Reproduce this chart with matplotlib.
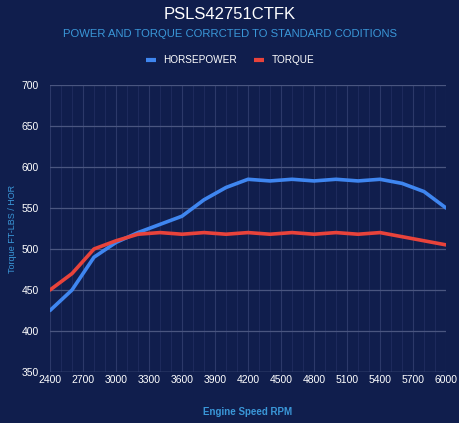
import numpy as np
import matplotlib
matplotlib.use('Agg')
import matplotlib.pyplot as plt
from matplotlib.ticker import MultipleLocator

# Data
rpm = [2400, 2600, 2800, 3000, 3200, 3400, 3600, 3800, 4000, 4200,
       4400, 4600, 4800, 5000, 5200, 5400, 5600, 5800, 6000]
horsepower = [425, 450, 490, 508, 520, 530, 540, 560, 575, 585,
              583, 585, 583, 585, 583, 585, 580, 570, 550]
torque = [450, 470, 500, 510, 518, 520, 518, 520, 518, 520,
          518, 520, 518, 520, 518, 520, 515, 510, 505]

bg = '#101e4d'
hp_color = '#3f86f0'
tq_color = '#e8433b'
label_blue = '#3a97d8'

plt.rcParams['font.family'] = ['Liberation Sans', 'DejaVu Sans']

fig = plt.figure(figsize=(4.6, 4.23), dpi=100, facecolor=bg)
ax = fig.add_axes([0.1087, 0.1206, 0.8609, 0.6785], facecolor=bg)

ax.plot(rpm, horsepower, color=hp_color, lw=2.6, label='HORSEPOWER', solid_capstyle='round')
ax.plot(rpm, torque, color=tq_color, lw=2.6, label='TORQUE', solid_capstyle='round')

ax.set_xlim(2400, 6000)
ax.set_ylim(350, 700)
ax.xaxis.set_major_locator(MultipleLocator(300))
ax.xaxis.set_minor_locator(MultipleLocator(100))
ax.yaxis.set_major_locator(MultipleLocator(50))

ax.grid(True, which='major', axis='y', color='#4a5680', lw=0.9)
ax.grid(True, which='major', axis='x', color='#2c3969', lw=0.8)
ax.grid(True, which='minor', axis='x', color='#1d2a5c', lw=0.8)
ax.set_axisbelow(True)

for s in ax.spines.values():
    s.set_visible(False)
ax.axhline(350, color='#4a5680', lw=1.0, zorder=1)

ax.tick_params(axis='both', which='both', length=0, colors='white', labelsize=7.5)
ax.tick_params(axis='x', pad=2)
ax.tick_params(axis='y', pad=8)

ax.set_ylabel('Torque FT-LBS / HOR', color=label_blue, fontsize=6.5, labelpad=3)
ax.set_xlabel('Engine Speed RPM', color=label_blue, fontsize=7, fontweight='bold', labelpad=16)

fig.text(0.5, 0.965, 'PSLS42751CTFK', color='white', fontsize=12, ha='center', va='center')
fig.text(0.5, 0.92, 'POWER AND TORQUE CORRCTED TO STANDARD CODITIONS',
         color=label_blue, fontsize=8.1, ha='center', va='center')

leg = fig.legend(loc='center', bbox_to_anchor=(0.5, 0.857), ncol=2, frameon=False,
                 fontsize=7.2, handlelength=1.0, handletextpad=0.7, columnspacing=1.8)
for t in leg.get_texts():
    t.set_color('white')
for line in leg.get_lines():
    line.set_linewidth(3)
    line.set_solid_capstyle('butt')

fig.savefig('out.png', dpi=100, facecolor=bg)
